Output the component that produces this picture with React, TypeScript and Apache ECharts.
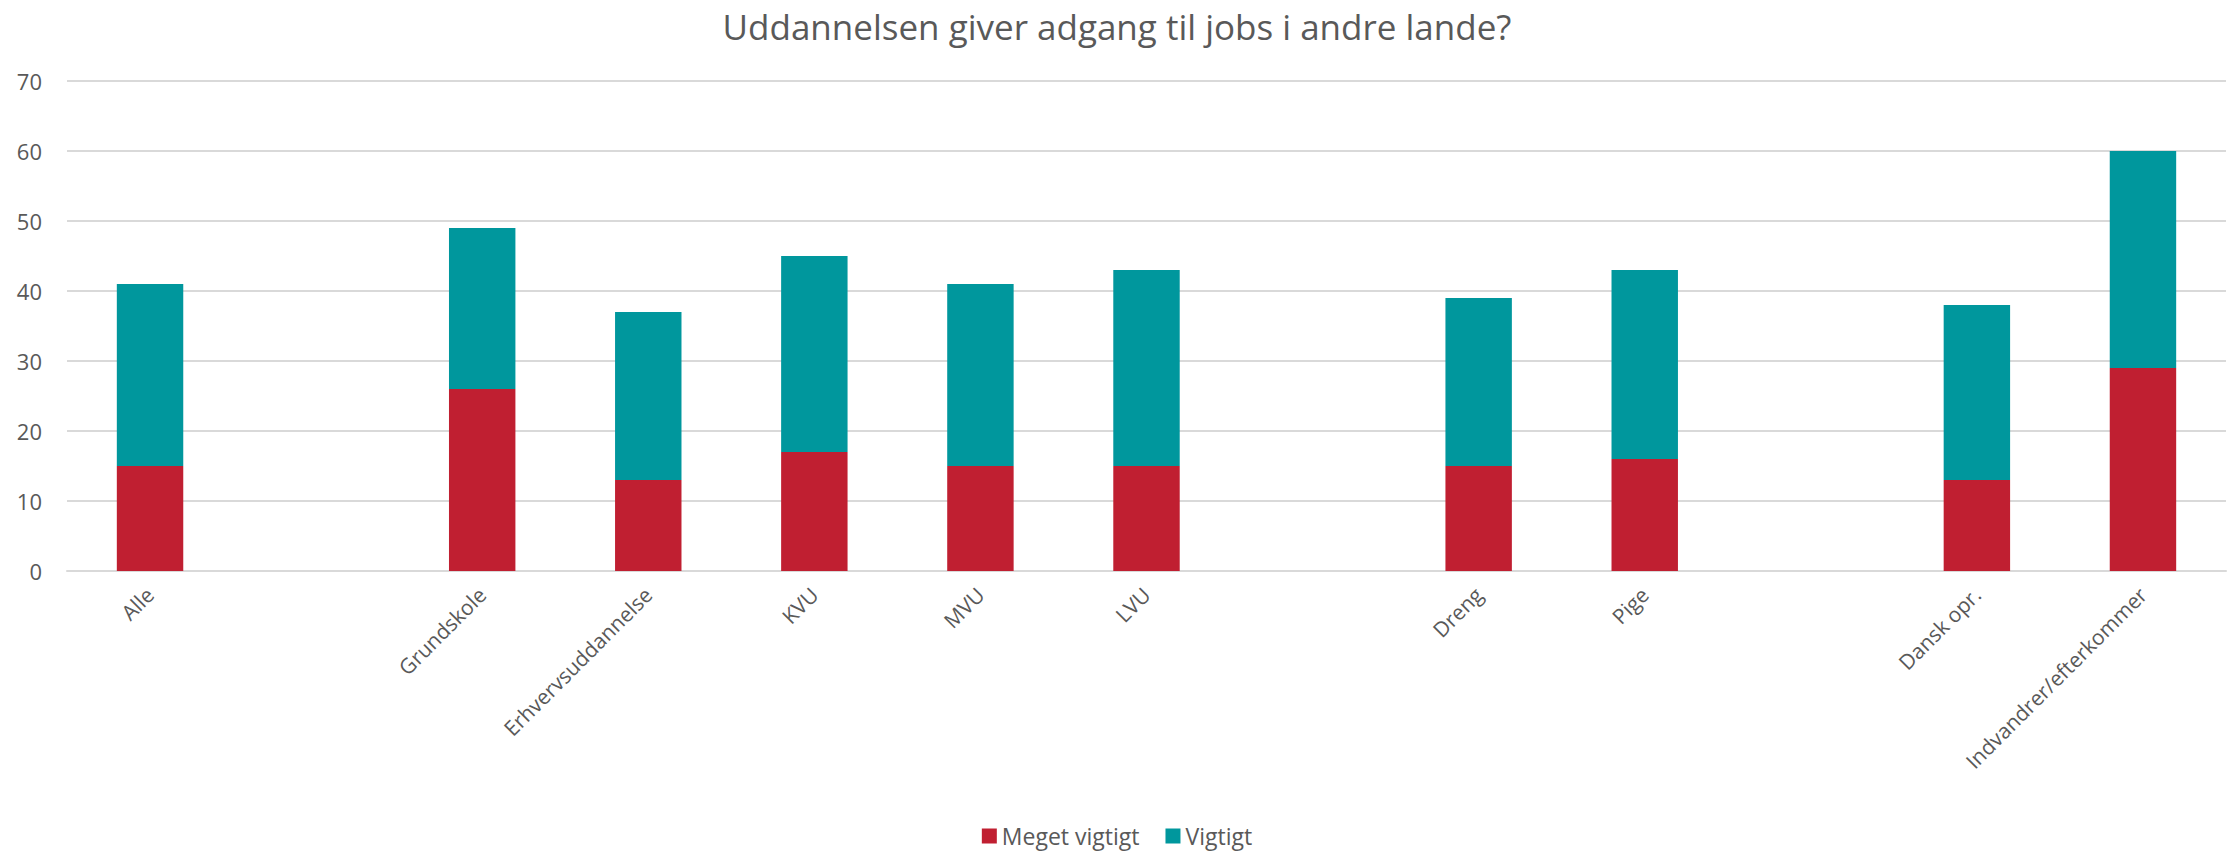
import React, { useEffect, useRef } from "react";
import * as echarts from "echarts";

const categories = ["Alle", "", "Grundskole", "Erhvervsuddannelse", "KVU", "MVU", "LVU", "", "Dreng", "Pige", "", "Dansk opr.", "Indvandrer/efterkommer"];
const megetVigtigt = [15, null, 26, 13, 17, 15, 15, null, 15, 16, null, 13, 29];
const vigtigt = [26, null, 23, 24, 28, 26, 28, null, 24, 27, null, 25, 31];
const seriesNames = ["Meget vigtigt", "Vigtigt"];
const yTicks = { min: 0, max: 70, interval: 10 };
const titleText = "Uddannelsen giver adgang til jobs i andre lande?";

const FONT = "'Open Sans', 'Noto Sans', sans-serif";
const TXT = "#595959";

export default function App() {
  const ref = useRef<HTMLDivElement>(null);
  useEffect(() => {
    if (!ref.current) return;
    document.body.style.margin = "0";
    const chart = echarts.init(ref.current, null, { renderer: "svg" });
    chart.setOption({
      animation: false,
      backgroundColor: "#ffffff",
      title: {
        text: titleText,
        left: "center",
        top: 8,
        padding: 0,
        textStyle: { fontFamily: FONT, fontSize: 35, fontWeight: "normal", color: TXT, lineHeight: 36 },
      },
      legend: {
        top: 824,
        left: "center",
        itemWidth: 15,
        itemHeight: 15,
        itemGap: 26,
        icon: "rect",
        padding: 0,
        textStyle: { fontFamily: FONT, fontSize: 23, color: TXT, lineHeight: 24 },
        data: seriesNames,
      },
      grid: { left: 67, right: 8, top: 81, bottom: 282, containLabel: false },
      xAxis: {
        type: "category",
        data: categories,
        axisLine: { lineStyle: { color: "#d9d9d9", width: 2 } },
        axisTick: { show: false },
        axisLabel: {
          rotate: 45,
          interval: 0,
          margin: 20,
          fontFamily: FONT,
          fontSize: 21,
          color: TXT,
        },
      },
      yAxis: {
        type: "value",
        min: yTicks.min,
        max: yTicks.max,
        interval: yTicks.interval,
        axisLine: { show: false },
        axisTick: { show: false },
        splitLine: { lineStyle: { color: "#d9d9d9", width: 2 } },
        axisLabel: { fontFamily: FONT, fontSize: 22, color: TXT, margin: 25 },
      },
      series: [
        {
          name: seriesNames[0],
          type: "bar",
          stack: "total",
          barWidth: "40%",
          data: megetVigtigt,
          itemStyle: { color: "#C01F31" },
        },
        {
          name: seriesNames[1],
          type: "bar",
          stack: "total",
          barWidth: "40%",
          data: vigtigt,
          itemStyle: { color: "#00979D" },
        },
      ],
    });
    return () => chart.dispose();
  }, []);
  return <div ref={ref} style={{ width: 2234, height: 853 }} />;
}
